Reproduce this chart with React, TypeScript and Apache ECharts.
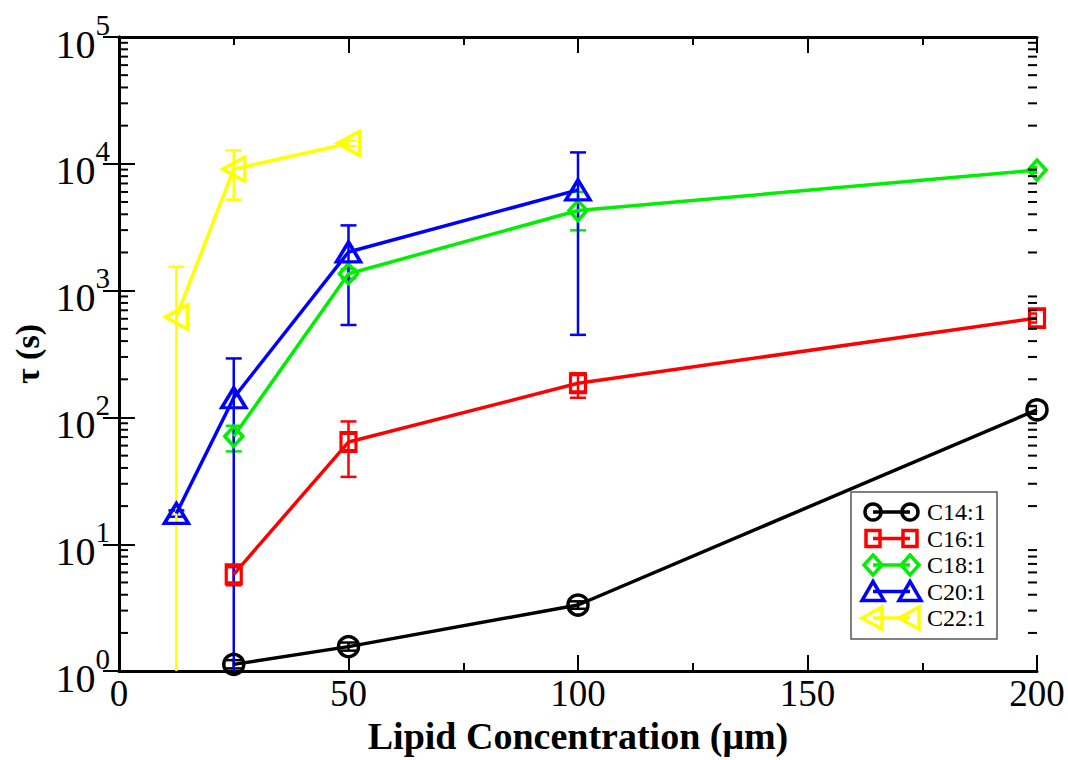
import React, { useEffect, useRef } from "react";
import * as echarts from "echarts";

const FONT = "Liberation Serif";

// x positions (µM)
const xC14 = [25, 50, 100, 200];
const yC14 = [1.13, 1.56, 3.32, 115];
const loC14 = [1.05, 1.45, 3.1, 107];
const hiC14 = [1.22, 1.68, 3.55, 123];

const xC16 = [25, 50, 100, 200];
const yC16 = [5.8, 64, 186, 608];
const loC16 = [4.75, 34, 143, 560];
const hiC16 = [6.6, 93, 223, 660];

const xC18 = [25, 50, 100, 200];
const yC18 = [71, 1360, 4280, 8920];
const loC18 = [54, 1250, 2990, 8500];
const hiC18 = [86, 1480, 6000, 9400];

const xC20 = [12.5, 25, 50, 100];
const yC20 = [17.5, 143, 2018, 6230];
const loC20 = [16.5, 0.5, 536, 448];
const hiC20 = [18.5, 292, 3270, 12300];

const xC22 = [12.5, 25, 50];
const yC22 = [619, 9080, 14460];
const loC22 = [0.5, 5210, 13800];
const hiC22 = [1543, 12760, 15200];

const seriesNames = ["C14:1", "C16:1", "C18:1", "C20:1", "C22:1"];
const seriesColors = ["#000000", "#ff0000", "#00ee00", "#0000ff", "#ffff00"];

const xTicks = [0, 50, 100, 150, 200];
const yDecades = [1, 10, 100, 1000, 10000, 100000];
const minorMultipliers = [2, 3, 4, 5, 6, 7, 8, 9];

const TRI_LEFT = "path://M0,5 L10,0 L10,10 Z";

const symbolDefs = [
  { symbol: "circle", size: 20 },
  { symbol: "rect", size: [15, 18] },
  { symbol: "diamond", size: [18, 20] },
  { symbol: "triangle", size: [24, 20] },
  { symbol: TRI_LEFT, size: [22, 24] },
];

export default function App() {
  const ref = useRef<HTMLDivElement>(null);

  useEffect(() => {
    if (!ref.current) return;
    const chart = echarts.init(ref.current, null, { renderer: "svg" });

    const xs = [xC14, xC16, xC18, xC20, xC22];
    const ys = [yC14, yC16, yC18, yC20, yC22];
    const los = [loC14, loC16, loC18, loC20, loC22];
    const his = [hiC14, hiC16, hiC18, hiC20, hiC22];

    const minorVals: number[] = [];
    yDecades.slice(0, -1).forEach((d) => minorMultipliers.forEach((m) => minorVals.push(d * m)));

    const errSeries = seriesNames.map((name, i) => ({
      type: "custom",
      name: name + " err",
      xAxisIndex: 0,
      yAxisIndex: 0,
      clip: true,
      z: 2,
      data: xs[i].map((x, j) => [x, los[i][j], his[i][j]]),
      renderItem: (params: any, api: any) => {
        const x = api.value(0);
        const pLo = api.coord([x, api.value(1)]);
        const pHi = api.coord([x, api.value(2)]);
        const w = 8;
        const st = { stroke: seriesColors[i], lineWidth: 2.5, fill: "none" };
        return {
          type: "group",
          children: [
            { type: "line", shape: { x1: pLo[0], y1: pLo[1], x2: pHi[0], y2: pHi[1] }, style: st },
            { type: "line", shape: { x1: pLo[0] - w, y1: pLo[1], x2: pLo[0] + w, y2: pLo[1] }, style: st },
            { type: "line", shape: { x1: pHi[0] - w, y1: pHi[1], x2: pHi[0] + w, y2: pHi[1] }, style: st },
          ],
        };
      },
    }));

    const lineSeries = seriesNames.map((name, i) => ({
      type: "line",
      name,
      xAxisIndex: 0,
      yAxisIndex: 0,
      z: 3 + i,
      data: xs[i].map((x, j) => [x, ys[i][j]]),
      symbol: symbolDefs[i].symbol,
      symbolSize: symbolDefs[i].size,
      symbolKeepAspect: false,
      showAllSymbol: true,
      clip: false,
      lineStyle: { color: seriesColors[i], width: 3.5 },
      itemStyle: { color: "rgba(0,0,0,0)", borderColor: seriesColors[i], borderWidth: 3.5 },
      emphasis: { disabled: true },
    }));

    const minorTickSeries = {
      type: "custom",
      name: "minor ticks",
      xAxisIndex: 0,
      yAxisIndex: 0,
      clip: false,
      silent: true,
      z: 10,
      data: [[0, 1]],
      renderItem: (params: any, api: any) => {
        const children: any[] = [];
        minorVals.forEach((v) => {
          const pl = api.coord([0, v]);
          const pr = api.coord([200, v]);
          children.push({ type: "line", shape: { x1: pl[0], y1: pl[1], x2: pl[0] + 9, y2: pl[1] }, style: { stroke: "#000", lineWidth: 2 } });
          children.push({ type: "line", shape: { x1: pr[0], y1: pr[1], x2: pr[0] - 9, y2: pr[1] }, style: { stroke: "#000", lineWidth: 2 } });
        });
        return { type: "group", children };
      },
    };

    // legend drawn as graphic
    const lgX = 851, lgY = 492, lgW = 146, lgH = 147;
    const rowY = [512, 538.5, 565, 591.5, 618];
    const s1 = 873, s2 = 910;
    const legendSym = (i: number, cx: number, cy: number) => {
      const st = { fill: "none", stroke: seriesColors[i], lineWidth: 3.5 };
      if (i === 0) return { type: "circle", shape: { cx, cy, r: 8 }, style: st };
      if (i === 1) return { type: "rect", shape: { x: cx - 7, y: cy - 8, width: 14, height: 16 }, style: st };
      if (i === 2) return { type: "polygon", shape: { points: [[cx, cy - 10], [cx + 9, cy], [cx, cy + 10], [cx - 9, cy]] }, style: st };
      if (i === 3) return { type: "polygon", shape: { points: [[cx, cy - 10], [cx + 11, cy + 9], [cx - 11, cy + 9]] }, style: st };
      return { type: "polygon", shape: { points: [[cx - 11, cy], [cx + 9, cy - 11], [cx + 9, cy + 11]] }, style: st };
    };
    const legendChildren: any[] = [
      { type: "rect", shape: { x: lgX, y: lgY, width: lgW, height: lgH }, style: { fill: "#fff", stroke: "#555", lineWidth: 1.5 } },
    ];
    seriesNames.forEach((name, i) => {
      const cy = rowY[i];
      legendChildren.push({ type: "line", shape: { x1: s1, y1: cy, x2: s2, y2: cy }, style: { stroke: seriesColors[i], lineWidth: 3.5 } });
      legendChildren.push(legendSym(i, s1, cy));
      legendChildren.push(legendSym(i, s2, cy));
      legendChildren.push({
        type: "text",
        x: 927,
        y: cy,
        style: { text: name, font: `24px "${FONT}"`, fill: "#000", textVerticalAlign: "middle", verticalAlign: "middle" },
      });
    });

    const baseX = {
      type: "value",
      min: xTicks[0],
      max: xTicks[xTicks.length - 1],
      interval: 50,
      splitLine: { show: false },
      axisLine: { show: true, lineStyle: { color: "#000", width: 3 } },
      axisTick: { show: true, inside: true, length: 16, lineStyle: { color: "#000", width: 2 } },
      minorTick: { show: true, splitNumber: 2, length: 8, lineStyle: { color: "#000", width: 2 } },
    };
    const baseY = {
      type: "log",
      logBase: 10,
      min: yDecades[0],
      max: yDecades[yDecades.length - 1],
      splitLine: { show: false },
      axisLine: { show: true, lineStyle: { color: "#000", width: 3 } },
      axisTick: { show: true, inside: true, length: 16, lineStyle: { color: "#000", width: 2 } },
    };

    chart.setOption({
      animation: false,
      backgroundColor: "#fff",
      grid: { left: 119, right: 31, top: 37, bottom: 80, containLabel: false },
      xAxis: [
        {
          ...baseX,
          position: "bottom",
          name: "Lipid Concentration (μm)",
          nameLocation: "middle",
          nameGap: 38,
          nameTextStyle: { fontFamily: FONT, fontWeight: "bold", fontSize: 38, color: "#000" },
          axisLabel: { show: true, fontFamily: FONT, fontSize: 37, color: "#000", margin: 4 },
        },
        { ...baseX, position: "top", axisLabel: { show: false } },
      ],
      yAxis: [
        {
          ...baseY,
          position: "left",
          name: "τ (s)",
          nameLocation: "middle",
          nameGap: 72,
          nameRotate: 90,
          nameTextStyle: { fontFamily: FONT, fontWeight: "bold", fontSize: 34, color: "#000" },
          axisLabel: {
            show: true,
            margin: 9,
            formatter: (v: number) => `{b|10}{s|${Math.round(Math.log10(v))}}`,
            rich: {
              b: { fontFamily: FONT, fontSize: 40, color: "#000", lineHeight: 54, verticalAlign: "bottom" },
              s: { fontFamily: FONT, fontSize: 29, color: "#000", lineHeight: 30, verticalAlign: "top" },
            },
          },
        },
        { ...baseY, position: "right", axisLabel: { show: false } },
      ],
      series: [...errSeries, ...lineSeries, minorTickSeries],
      graphic: [{ type: "group", z: 100, children: legendChildren }],
    });

    return () => chart.dispose();
  }, []);

  return <div ref={ref} style={{ position: "fixed", left: 0, top: 0, width: 1068, height: 760 }} />;
}
